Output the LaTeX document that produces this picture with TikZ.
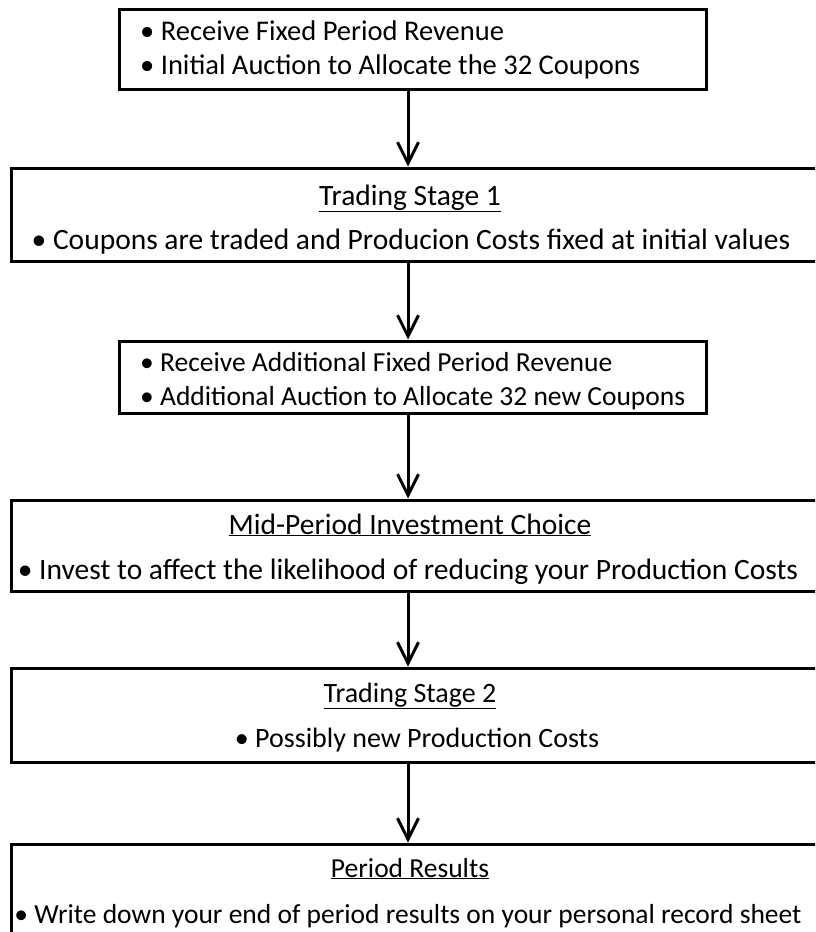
\documentclass[tikz,border=0pt]{standalone}
\usepackage{fontspec}
\setmainfont{Carlito}
\usetikzlibrary{arrows.meta}
\tikzset{
  flowbox/.style={draw=black, line width=3pt, rectangle, inner sep=0pt},
  flowtxt/.style={font=\fontsize{28}{32}\selectfont, inner sep=0pt, anchor=base},
  flowtxtl/.style={flowtxt, anchor=base west},
  flowarrow/.style={line width=3pt, -{Straight Barb[length=21pt,width=21pt,line width=3pt]}}
}
\newcommand{\fsz}[1]{\fontsize{#1}{#1}\selectfont}
\begin{document}
\begin{tikzpicture}[x=1pt,y=-1pt]
\useasboundingbox (0,0) rectangle (815,932);
\clip (0,0) rectangle (815,932);
% boxes
\node[flowbox, minimum width=587pt, minimum height=80pt] (b1) at (413,49) {};
\node[flowbox, minimum width=809pt, minimum height=93pt] (b2) at (415.5,214.5) {};
\node[flowbox, minimum width=587pt, minimum height=72pt] (b3) at (413,377) {};
\node[flowbox, minimum width=809pt, minimum height=91pt] (b4) at (415.5,545.5) {};
\node[flowbox, minimum width=809pt, minimum height=94pt] (b5) at (415.5,715) {};
\node[flowbox, minimum width=809pt, minimum height=116pt] (b6) at (415.5,902) {};
% texts
\node[flowtxtl, font=\fsz{28.5}] (t1a) at (140,40) {• Receive Fixed Period Revenue};
\node[flowtxtl, font=\fsz{28.5}] (t1b) at (140,74) {• Initial Auction to Allocate the 32 Coupons};
\node[flowtxt, font=\fsz{29.5}] (t2a) at (410,205) {\underline{Trading Stage 1}};
\node[flowtxt, font=\fsz{29.5}] (t2b) at (411,249) {• Coupons are traded and Producion Costs fixed at initial values};
\node[flowtxtl, font=\fsz{27.5}] (t3a) at (140,371) {• Receive Additional Fixed Period Revenue};
\node[flowtxtl, font=\fsz{27.5}] (t3b) at (140,405) {• Additional Auction to Allocate 32 new Coupons};
\node[flowtxt, font=\fsz{29.5}] (t4a) at (410,534) {\underline{Mid-Period Investment Choice}};
\node[flowtxt, font=\fsz{29.5}] (t4b) at (408,579) {• Invest to affect the likelihood of reducing your Production Costs};
\node[flowtxt, font=\fsz{28}] (t5a) at (410,702) {\underline{Trading Stage 2}};
\node[flowtxt, font=\fsz{28}] (t5b) at (417,747) {• Possibly new Production Costs};
\node[flowtxt, font=\fsz{27.5}] (t6a) at (410,877) {\underline{Period Results}};
\node[flowtxt, font=\fsz{27.5}] (t6b) at (408,923) {• Write down your end of period results on your personal record sheet};
% arrows
\coordinate (ax) at (408,0);
\draw[flowarrow] (b1.south -| ax) -- (b2.north -| ax);
\draw[flowarrow] (b2.south -| ax) -- (b3.north -| ax);
\draw[flowarrow] (b3.south -| ax) -- (b4.north -| ax);
\draw[flowarrow] (b4.south -| ax) -- (b5.north -| ax);
\draw[flowarrow] (b5.south -| ax) -- (b6.north -| ax);
\end{tikzpicture}
\end{document}
